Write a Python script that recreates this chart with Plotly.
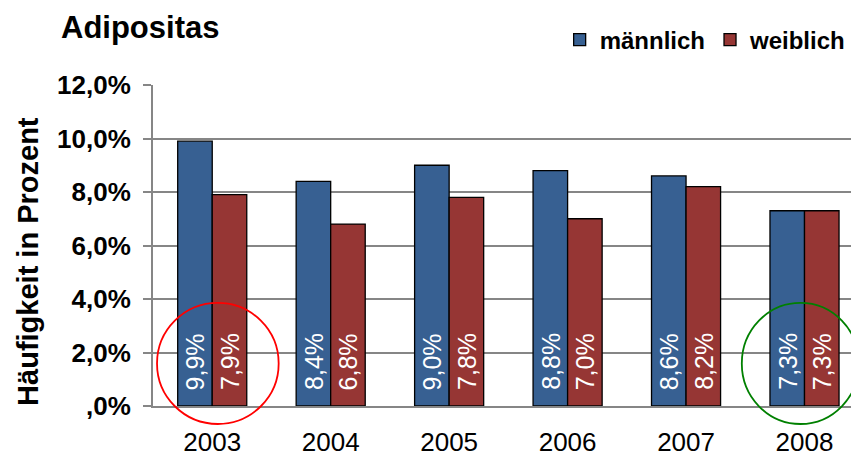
import plotly.graph_objects as go

years = ["2003", "2004", "2005", "2006", "2007", "2008"]
maennlich = [9.9, 8.4, 9.0, 8.8, 8.6, 7.3]
weiblich = [7.9, 6.8, 7.8, 7.0, 8.2, 7.3]
ytick_vals = [0, 2, 4, 6, 8, 10, 12]
ytick_text = [",0%", "2,0%", "4,0%", "6,0%", "8,0%", "10,0%", "12,0%"]

BLUE = "#376092"
RED = "#963634"
FONT = "Arial, Liberation Sans, sans-serif"
BARGAP = 0.417

# page body has an 8px margin, so the figure is sized to fill the rest of the window
W, H = 851, 450


def fmt(v):
    return f"{v:.1f}".replace(".", ",") + "%"


fig = go.Figure()
fig.add_trace(go.Bar(x=years, y=maennlich, name="männlich",
                     marker=dict(color=BLUE, line=dict(color="black", width=1.3))))
fig.add_trace(go.Bar(x=years, y=weiblich, name="weiblich",
                     marker=dict(color=RED, line=dict(color="black", width=1.3))))

half = (1 - BARGAP) / 4
annotations = []
for i, (m, w) in enumerate(zip(maennlich, weiblich)):
    for off, v in ((-half, m), (half, w)):
        annotations.append(dict(x=i + off, y=0, xref="x", yref="y", text=fmt(v),
                                showarrow=False, textangle=-90, yanchor="bottom",
                                xanchor="center", yshift=14,
                                font=dict(family=FONT, size=25, color="white")))

annotations.append(dict(x=-0.178, y=0.45, xref="paper", yref="paper",
                        text="<b>Häufigkeit in Prozent</b>", showarrow=False,
                        textangle=-90, xanchor="center", yanchor="middle",
                        font=dict(family=FONT, size=29, color="black")))

shapes = [
    dict(type="circle", xref="paper", yref="paper", x0=0.0057, x1=0.178,
         y0=-0.056, y1=0.321, line=dict(color="#FF0000", width=1.8)),
    dict(type="circle", xref="paper", yref="paper", x0=0.834, x1=1.0,
         y0=-0.056, y1=0.321, line=dict(color="#008000", width=1.8)),
]

fig.update_layout(
    width=W, height=H,
    margin=dict(l=145, r=0, t=77, b=52, autoexpand=False),
    paper_bgcolor="white", plot_bgcolor="white",
    barmode="group", bargap=BARGAP, bargroupgap=0,
    title=dict(text="<b>Adipositas</b>", x=53 / W, xanchor="left", xref="container",
               y=1 - 19 / H, yanchor="middle",
               font=dict(family=FONT, size=31, color="black")),
    legend=dict(orientation="h", x=0.576, xanchor="left", y=1 + 45 / 321,
                yanchor="middle", itemwidth=30,
                font=dict(family=FONT, size=24, color="black", weight="bold"),
                bgcolor="rgba(0,0,0,0)", tracegroupgap=0),
    xaxis=dict(type="category", range=[-0.5, 5.46], automargin=False,
               showline=True, linecolor="#868686", linewidth=2,
               ticks="", showgrid=False, ticklabelstandoff=12,
               tickfont=dict(family=FONT, size=26, color="black")),
    yaxis=dict(range=[0, 12], tickvals=ytick_vals, ticktext=ytick_text,
               automargin=False,
               showline=True, linecolor="#868686", linewidth=2,
               ticks="outside", ticklen=8, tickcolor="#868686", tickwidth=2,
               showgrid=True, gridcolor="#868686", gridwidth=2,
               zeroline=False, ticklabelstandoff=7,
               tickfont=dict(family=FONT, size=26, color="black", weight="bold")),
    annotations=annotations,
    shapes=shapes,
    showlegend=True,
)

fig.write_html("out.html")
